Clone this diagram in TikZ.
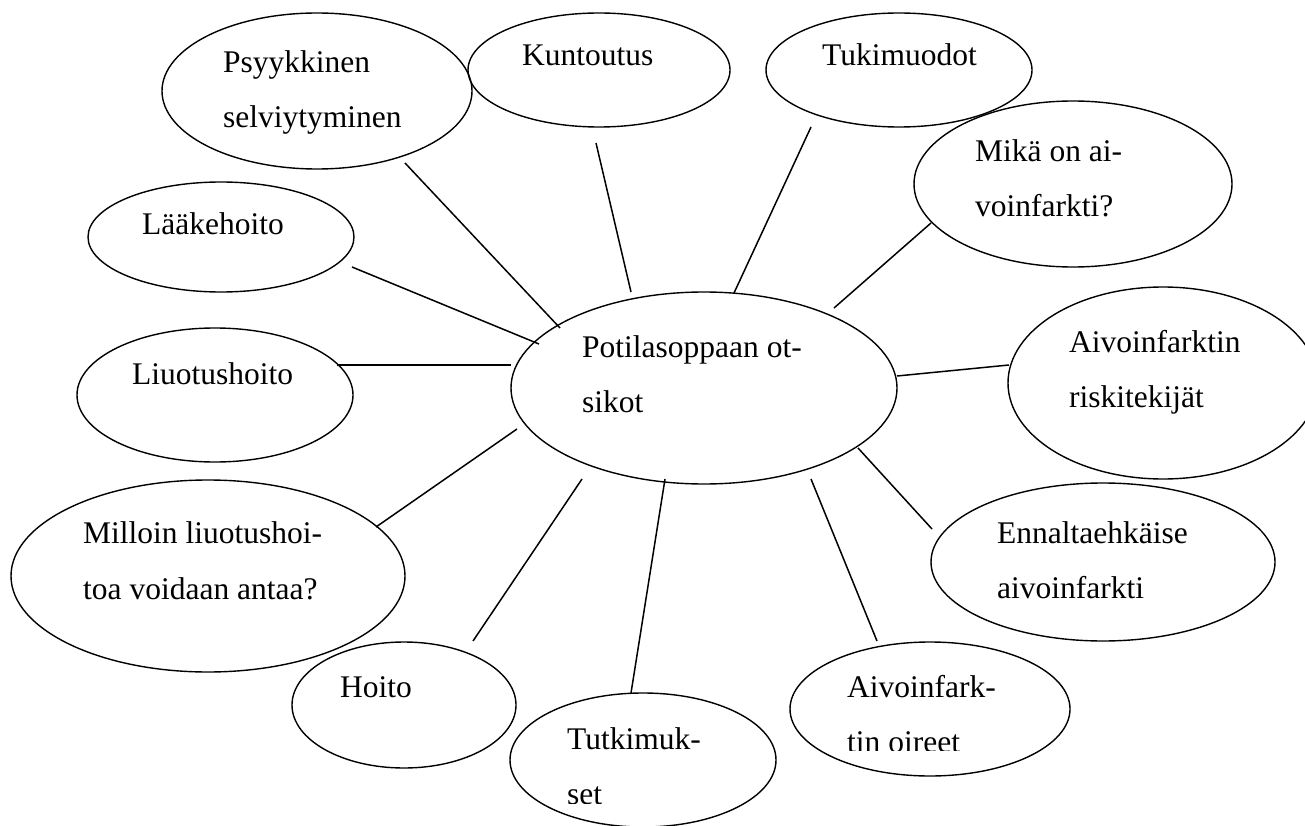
\documentclass[tikz,border=0pt]{standalone}
\usepackage{fontspec}
\setmainfont{Liberation Serif}
\usetikzlibrary{shapes.geometric}
\begin{document}
\begin{tikzpicture}[x=1pt,y=-1pt,
  bubble/.style={draw,ellipse,line width=1.4pt,inner sep=0pt,outer sep=0pt},
  label/.style={anchor=base west,inner sep=0pt,font=\fontsize{31.5}{55}\selectfont},
  link/.style={line width=1.5pt}]
\useasboundingbox (0,0) rectangle (1305,826);
% ellipses
\node[bubble,minimum width=386pt,minimum height=192pt] (center) at (704,388) {};
\node[bubble,minimum width=310pt,minimum height=156pt] (psyk) at (317,91) {};
\node[bubble,minimum width=262pt,minimum height=114pt] (kunt) at (599,70) {};
\node[bubble,minimum width=266pt,minimum height=114pt] (tuki) at (899,70) {};
\node[bubble,minimum width=318pt,minimum height=166pt] (mika) at (1073,184) {};
\node[bubble,minimum width=310pt,minimum height=192pt] (riski) at (1163,383) {};
\node[bubble,minimum width=344pt,minimum height=158pt] (ennal) at (1103,562) {};
\node[bubble,minimum width=280pt,minimum height=134pt] (oire) at (930,709) {};
\node[bubble,minimum width=266pt,minimum height=134pt] (tutk) at (643,760) {};
\node[bubble,minimum width=224pt,minimum height=126pt] (hoito) at (404,705) {};
\node[bubble,minimum width=394pt,minimum height=192pt] (mill) at (208,576) {};
\node[bubble,minimum width=276pt,minimum height=134pt] (liuo) at (215,395) {};
\node[bubble,minimum width=266pt,minimum height=110pt] (laak) at (221,237) {};
% texts
\node[label] (tc1) at (582,357) {Potilasoppaan ot-};
\node[label] (tc2) at (582,412) {sikot};
\node[label] (tp1) at (223,73) {Psyykkinen};
\node[label] (tp2) at (223,128) {selviytyminen};
\node[label] (tk) at (522,66) {Kuntoutus};
\node[label] (tt) at (822,66) {Tukimuodot};
\node[label] (tm1) at (975,162) {Mikä on ai-};
\node[label] (tm2) at (975,217) {voinfarkti?};
\node[label] (tr1) at (1069,352) {Aivoinfarktin};
\node[label] (tr2) at (1069,407) {riskitekijät};
\node[label] (te1) at (997,543) {Ennaltaehkäise};
\node[label] (te2) at (997,598) {aivoinfarkti};
\node[label] (to1) at (847,697) {Aivoinfark-};
\begin{scope}
\clip (800,700) rectangle (1060,750);
\node[label] (to2) at (847,752) {tin oireet};
\end{scope}
\node[label] (tu1) at (567,749) {Tutkimuk-};
\begin{scope}
\clip (520,760) rectangle (770,803);
\node[label] (tu2) at (567,804) {set};
\end{scope}
\node[label] (th) at (340,697) {Hoito};
\node[label] (ti1) at (83,543) {Milloin liuotushoi-};
\node[label] (ti2) at (83,599) {toa voidaan antaa?};
\node[label] (tl) at (132,384) {Liuotushoito};
\node[label] (tla) at (142,235) {Lääkehoito};
% connector end points
\coordinate (a1) at (352,267); \coordinate (b1) at (539,344);
\coordinate (a2) at (405,163); \coordinate (b2) at (560,328);
\coordinate (a3) at (596,143); \coordinate (b3) at (631,292);
\coordinate (a4) at (811,127); \coordinate (b4) at (734,293);
\coordinate (a5) at (931,223); \coordinate (b5) at (834,308);
\coordinate (a6) at (1009,365); \coordinate (b6) at (897,376);
\coordinate (a7) at (932,529); \coordinate (b7) at (858,448);
\coordinate (a8) at (877,641); \coordinate (b8) at (811,479);
\coordinate (a9) at (631,693); \coordinate (b9) at (665,479);
\coordinate (a10) at (473,641); \coordinate (b10) at (582,479);
\coordinate (a11) at (376,527); \coordinate (b11) at (517,429);
\coordinate (a12) at (337,365); \coordinate (b12) at (511,365);
\foreach \i in {1,...,12} {\draw[link] (a\i) -- (b\i);}
\end{tikzpicture}
\end{document}
